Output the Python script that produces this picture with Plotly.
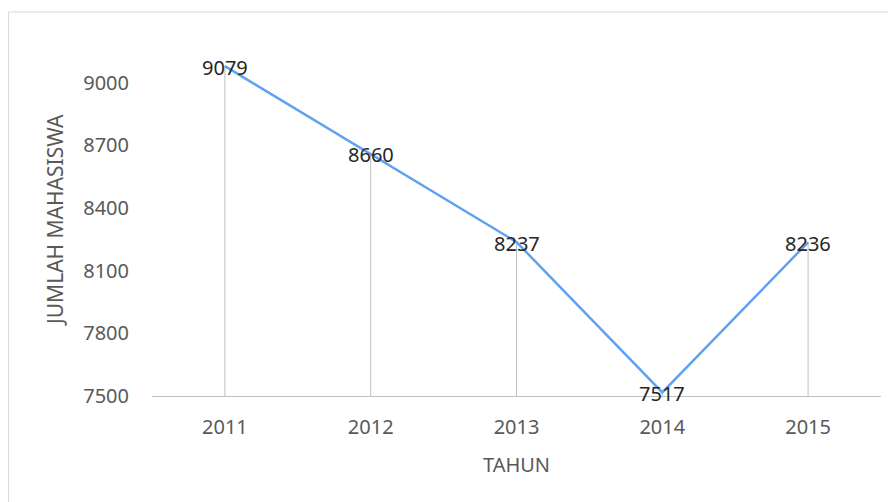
import plotly.graph_objects as go

years = ["2011", "2012", "2013", "2014", "2015"]
students = [9079, 8660, 8237, 7517, 8236]
y_ticks = [7500, 7800, 8100, 8400, 8700, 9000]
y_min = 7500
y_max = 9300

FONT = "Noto Sans"

# page body has an 8px margin, so figure is laid out in shifted coordinates
L, R, T, B = 144, 15, 12, 106
W, H = 888, 494
PW = W - L - R
PH = H - T - B

fig = go.Figure()

# drop lines from each point to the axis
fig.add_trace(go.Scatter(
    x=years, y=students, mode="markers",
    marker=dict(size=0.1, color="rgba(0,0,0,0)"),
    error_y=dict(type="data", symmetric=False, array=[0]*len(students),
                 arrayminus=[v - y_min for v in students],
                 color="#bfbfbf", thickness=1, width=0),
    hoverinfo="skip", showlegend=False,
))

fig.add_trace(go.Scatter(
    x=years, y=students, mode="lines",
    line=dict(color="#5fa2f2", width=2.5),
    showlegend=False,
))

# data labels (category index positions on the x axis)
labels = [dict(x=i, y=v, xref="x", yref="y", text=str(v), showarrow=False,
               xanchor="center", yanchor="middle", yshift=-1,
               font=dict(family=FONT, size=20, color="#262626"))
          for i, v in enumerate(students)]

fig.update_layout(
    width=W, height=H,
    margin=dict(l=L, r=R, t=T, b=B),
    paper_bgcolor="white", plot_bgcolor="white",
    font=dict(family=FONT, size=20, color="#595959"),
    xaxis=dict(
        type="category", range=[-0.5, 4.5],
        showline=True, linecolor="#bfbfbf", linewidth=1,
        showgrid=False, ticks="", ticklabelstandoff=13,
        title=dict(text="TAHUN", font=dict(size=20, color="#595959"), standoff=18),
        tickfont=dict(size=20, color="#595959"),
    ),
    yaxis=dict(
        range=[y_min, y_max], tickvals=y_ticks,
        showline=False, showgrid=False, zeroline=False, ticks="",
        ticklabelstandoff=22,
        tickfont=dict(size=20, color="#595959"),
    ),
    annotations=labels + [dict(text="JUMLAH MAHASISWA", textangle=-90,
                      xref="paper", yref="paper",
                      x=(47 - L) / PW, y=(T + PH - 212) / PH,
                      xanchor="center", yanchor="middle", showarrow=False,
                      font=dict(family=FONT, size=21, color="#595959"))],
    shapes=[
        dict(type="line", xref="paper", yref="paper",
             x0=(0.5 - L) / PW, x1=(0.5 - L) / PW,
             y0=(T + PH - 500) / PH, y1=(T + PH - 4) / PH,
             line=dict(color="#d9d9d9", width=1), layer="below"),
        dict(type="line", xref="paper", yref="paper",
             x0=(0.5 - L) / PW, x1=(900 - L) / PW,
             y0=(T + PH - 4) / PH, y1=(T + PH - 4) / PH,
             line=dict(color="#d9d9d9", width=1), layer="below"),
    ],
)

fig.write_html("out.html")
